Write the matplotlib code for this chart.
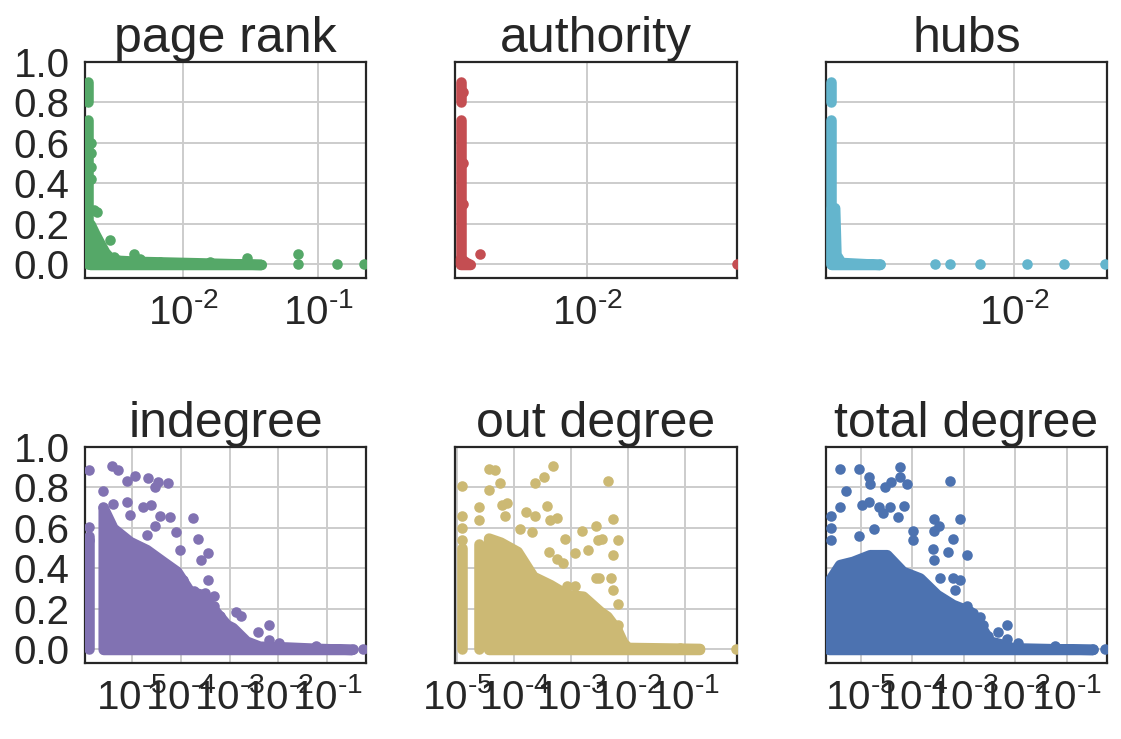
import numpy as np
import matplotlib
matplotlib.use('Agg')
import matplotlib.pyplot as plt
from matplotlib.ticker import NullFormatter, LogLocator, FuncFormatter

#####################################################################################################
# data: every measure on a log x axis, y shared 0..1
# columns = discrete values drawn as a stack of dots, mass = upper edge of the solid cloud

# page rank
pr_col_x = [1.98e-3, 1.98e-3]
pr_col_lo = [0.0, 0.80]
pr_col_hi = [0.713, 0.90]
pr_mass_x = [2.05e-3, 2.23e-3, 2.4e-3, 2.64e-3, 2.9e-3, 3.4e-3, 4.8e-3, 1.34e-2, 3.8e-2]
pr_mass_top = [0.20, 0.15, 0.11, 0.06, 0.03, 0.02, 0.015, 0.008, 0.0]
pr_pts_x = [2.1e-3, 2.1e-3, 2.1e-3, 2.1e-3, 2.3e-3, 2.2e-3, 2.9e-3, 2.4e-3, 3.1e-3,
            4.3e-3, 4.8e-3, 6.8e-3, 1.58e-2, 2.96e-2, 7.14e-2, 7.14e-2, 0.138, 0.217]
pr_pts_y = [0.60, 0.55, 0.48, 0.42, 0.259, 0.27, 0.119, 0.086, 0.036,
            0.053, 0.028, 0.012, 0.012, 0.033, 0.05, 0.0, 0.0, 0.0]
pr_xlim = (1.88e-3, 0.227)

# authority
au_col_x = [2.15e-3, 2.15e-3]
au_col_lo = [0.0, 0.80]
au_col_hi = [0.713, 0.90]
au_mass_x = [2.15e-3, 2.3e-3, 2.42e-3]
au_mass_top = [0.03, 0.01, 0.0]
au_pts_x = [2.22e-3, 2.22e-3, 2.22e-3, 2.71e-3, 0.0608]
au_pts_y = [0.85, 0.5, 0.3, 0.053, 0.0]
au_xlim = (2.02e-3, 0.0608)

# hubs
hu_col_x = [1.35e-3, 1.35e-3]
hu_col_lo = [0.0, 0.80]
hu_col_hi = [0.713, 0.90]
hu_mass_x = [1.35e-3, 1.40e-3, 1.42e-3, 1.5e-3, 2.3e-3]
hu_mass_top = [0.28, 0.28, 0.05, 0.01, 0.0]
hu_pts_x = [2.08e-3, 2.3e-3, 4.2e-3, 4.95e-3, 6.9e-3, 1.15e-2, 1.72e-2, 2.71e-2]
hu_pts_y = [0.0, 0.0, 0.0, 0.0, 0.0, 0.0, 0.0, 0.0]
hu_xlim = (1.27e-3, 0.0277)

# indegree
in_col_x = [1.3e-6]
in_col_lo = [0.0]
in_col_hi = [0.56]
in_mass_x = [2.6e-6, 4.1e-6, 9.1e-6, 2.0e-5, 4.3e-5, 8.3e-5, 1.53e-4, 2.8e-4, 4.5e-4,
             8.7e-4, 1.15e-3, 2.2e-3, 4.1e-3, 1.46e-2, 6.9e-2, 0.32]
in_mass_top = [0.70, 0.60, 0.533, 0.493, 0.435, 0.386, 0.287, 0.271, 0.205,
               0.123, 0.108, 0.041, 0.016, 0.012, 0.005, 0.0]
in_pts_x = [1.3e-6, 3.9e-6, 5.2e-6, 7.8e-6, 1.15e-5, 2.15e-5, 3.45e-5, 5.5e-5, 2.95e-5,
            2.6e-6, 2.6e-6, 4.2e-6, 7.8e-6, 1.7e-5, 2.5e-5, 9.1e-6, 3.7e-5, 6.0e-5,
            1.8e-4, 2.95e-5, 8.2e-5, 2.25e-4, 2.0e-5, 9.5e-5, 3.6e-4, 2.65e-4, 3.6e-4,
            1.1e-4, 1.9e-4, 3.1e-4, 4.9e-4, 4.9e-4, 3.35e-4, 6.25e-4, 1.3e-6, 1.3e-6,
            1.37e-3, 1.73e-3, 3.8e-3, 6.5e-3, 6.5e-3, 1.05e-2, 5.9e-2, 0.33, 0.525]
in_pts_y = [0.887, 0.906, 0.887, 0.834, 0.857, 0.849, 0.829, 0.821, 0.804,
            0.785, 0.706, 0.719, 0.726, 0.706, 0.714, 0.665, 0.66, 0.654,
            0.647, 0.611, 0.578, 0.545, 0.567, 0.493, 0.476, 0.44, 0.341,
            0.341, 0.287, 0.279, 0.266, 0.213, 0.164, 0.164, 0.607, 0.542,
            0.184, 0.164, 0.085, 0.123, 0.049, 0.033, 0.016, 0.003, 0.0]
in_xlim = (1.1e-6, 0.625)

# out degree
od_col_x = [1.18e-5, 2.36e-5]
od_col_lo = [0.0, 0.0]
od_col_hi = [0.50, 0.52]
od_mass_x = [3.54e-5, 5.7e-5, 1.13e-4, 2.15e-4, 4.3e-4, 8.5e-4, 1.62e-3, 3.2e-3, 4.3e-3,
             6.4e-3, 8.2e-3, 1.0e-2, 0.183]
od_mass_top = [0.55, 0.53, 0.484, 0.361, 0.32, 0.271, 0.263, 0.189, 0.164,
               0.099, 0.034, 0.01, 0.005]
od_pts_x = [1.18e-5, 1.18e-5, 1.18e-5, 1.18e-5, 2.36e-5, 2.36e-5, 3.54e-5, 4.65e-5, 3.54e-5,
            5.7e-5, 6.1e-5, 7.4e-5, 7.0e-5, 1.27e-4, 2.05e-4, 1.62e-4, 2.33e-4, 2.33e-4,
            3.4e-4, 4.9e-4, 3.7e-4, 4.3e-4, 5.6e-4, 7.9e-4, 4.1e-4, 5.6e-4, 7.3e-4,
            1.17e-3, 1.54e-3, 2.0e-3, 2.7e-3, 3.0e-3, 2.8e-3, 1.17e-3, 8.4e-4,
            4.5e-3, 5.5e-3, 3.45e-3, 6.6e-3, 5.5e-3, 3.1e-3, 5.0e-3, 5.4e-3, 6.8e-3,
            2.75e-3, 6.8e-3, 0.036, 0.055, 0.082, 0.156, 0.80]
od_pts_y = [0.805, 0.657, 0.60, 0.542, 0.706, 0.64, 0.89, 0.887, 0.788,
            0.821, 0.714, 0.722, 0.66, 0.594, 0.578, 0.677, 0.657, 0.821,
            0.851, 0.906, 0.711, 0.64, 0.649, 0.545, 0.48, 0.447, 0.427,
            0.476, 0.583, 0.493, 0.611, 0.542, 0.353, 0.315, 0.312,
            0.833, 0.645, 0.545, 0.539, 0.468, 0.353, 0.353, 0.296, 0.225,
            0.194, 0.123, 0.0, 0.0, 0.005, 0.0, 0.0]
od_xlim = (9.2e-6, 0.82)

# total degree
td_col_x = []
td_col_lo = []
td_col_hi = []
td_mass_x = [2.4e-6, 3.9e-6, 7.0e-6, 1.5e-5, 3.2e-5, 6.5e-5, 1.4e-4, 3.0e-4, 6.1e-4,
             1.31e-3, 2.05e-3, 3.2e-3, 5.7e-3, 8.9e-3, 7.3e-2, 0.32]
td_mass_top = [0.337, 0.419, 0.435, 0.468, 0.468, 0.386, 0.353, 0.271, 0.222,
               0.189, 0.123, 0.041, 0.025, 0.008, 0.003, 0.0]
td_pts_x = [3.9e-6, 9.1e-6, 1.43e-5, 1.54e-5, 5.3e-6, 2.9e-5, 3.9e-5, 5.9e-5, 5.9e-5,
            7.9e-5, 5.3e-4, 3.9e-6, 1.08e-5, 1.43e-5, 2.3e-5, 3.65e-5, 6.8e-5, 2.7e-5,
            5.3e-5, 2.6e-6, 2.6e-6, 2.6e-6, 9.1e-6, 1.8e-5, 1.04e-4, 1.04e-4, 2.7e-4,
            3.3e-4, 2.7e-4, 8.4e-4, 6.2e-4, 5.0e-4, 1.13e-3, 2.56e-4, 2.7e-4, 2.2e-5,
            3.4e-4, 6.2e-4, 6.7e-4, 8.4e-4, 1.13e-3, 1.52e-3, 2.05e-3, 2.4e-3, 3.0e-3,
            4.6e-3, 6.8e-3, 6.8e-3, 1.14e-2, 5.8e-2, 0.32, 0.54]
td_pts_y = [0.89, 0.89, 0.854, 0.818, 0.785, 0.804, 0.829, 0.903, 0.854,
            0.818, 0.834, 0.706, 0.714, 0.726, 0.706, 0.706, 0.709, 0.673,
            0.652, 0.657, 0.60, 0.542, 0.558, 0.594, 0.583, 0.542, 0.645,
            0.611, 0.583, 0.645, 0.545, 0.48, 0.468, 0.496, 0.443, 0.46,
            0.353, 0.353, 0.296, 0.345, 0.213, 0.181, 0.161, 0.122, 0.066,
            0.085, 0.123, 0.053, 0.033, 0.016, 0.003, 0.0]
td_xlim = (2.1e-6, 0.6)

titles = ['page rank', 'authority', 'hubs', 'indegree', 'out degree', 'total degree']
colors = ['#55A868', '#C44E52', '#64B5CD', '#8172B2', '#CCB974', '#4C72B0']

DOT = 7.6   # marker diameter in points

#####################################################################################################
def decade_label(v, pos):
    # short hyphen in the exponent, like the original render
    e = int(round(np.log10(v)))
    if e < 0:
      return '$10^{\u2010%d}$' % (-e)
    return '$10^{%d}$' % e

#####################################################################################################
def draw_panel(ax, title, color, col, mass, pts, xlim):
    col_x, col_lo, col_hi = col
    mass_x, mass_top = mass
    pts_x, pts_y = pts

    if len(col_x):
      ax.vlines(col_x, col_lo, col_hi, colors=color, linewidth=DOT, capstyle='round', zorder=3)
    ax.fill_between(mass_x, 0, mass_top, facecolor=color, edgecolor=color,
                    linewidth=DOT, joinstyle='round', zorder=3)
    ax.scatter(pts_x, pts_y, s=DOT**2, color=color, linewidths=0, zorder=3)

    ax.set_xscale('log')
    ax.set_xlim(xlim)
    ax.xaxis.set_major_locator(LogLocator(base=10, numticks=15))
    ax.xaxis.set_major_formatter(FuncFormatter(decade_label))
    ax.xaxis.set_minor_formatter(NullFormatter())
    ax.set_title(title)


#####################################################################################################
def draw_chart():
    plt.rcParams['font.family'] = ['Liberation Sans', 'DejaVu Sans']
    plt.rcParams['mathtext.fontset'] = 'custom'
    plt.rcParams['mathtext.rm'] = 'Liberation Sans'
    plt.rcParams['mathtext.it'] = 'Liberation Sans:italic'
    plt.rcParams['mathtext.bf'] = 'Liberation Sans:bold'
    plt.rcParams['mathtext.default'] = 'regular'
    plt.rcParams['axes.edgecolor'] = '#262626'
    plt.rcParams['axes.linewidth'] = 1.6
    plt.rcParams['axes.grid'] = True
    plt.rcParams['axes.axisbelow'] = True
    plt.rcParams['axes.titlesize'] = 36
    plt.rcParams['axes.titlepad'] = 4
    plt.rcParams['grid.color'] = '#cccccc'
    plt.rcParams['grid.linewidth'] = 1.4
    plt.rcParams['text.color'] = '#262626'
    for a in ['xtick', 'ytick']:
      plt.rcParams[a + '.major.size'] = 0
      plt.rcParams[a + '.minor.size'] = 0
      plt.rcParams[a + '.color'] = '#262626'
      plt.rcParams[a + '.labelsize'] = 29
    plt.rcParams['xtick.major.pad'] = 11
    plt.rcParams['ytick.major.pad'] = 11

    fig, axes = plt.subplots(2, 3, figsize=(11.21, 7.39), dpi=100, sharey=True)
    fig.subplots_adjust(left=0.0758, right=0.9875, bottom=0.1028, top=0.9161,
                        wspace=0.317, hspace=0.782)

    panels = [
      ((pr_col_x, pr_col_lo, pr_col_hi), (pr_mass_x, pr_mass_top), (pr_pts_x, pr_pts_y), pr_xlim),
      ((au_col_x, au_col_lo, au_col_hi), (au_mass_x, au_mass_top), (au_pts_x, au_pts_y), au_xlim),
      ((hu_col_x, hu_col_lo, hu_col_hi), (hu_mass_x, hu_mass_top), (hu_pts_x, hu_pts_y), hu_xlim),
      ((in_col_x, in_col_lo, in_col_hi), (in_mass_x, in_mass_top), (in_pts_x, in_pts_y), in_xlim),
      ((od_col_x, od_col_lo, od_col_hi), (od_mass_x, od_mass_top), (od_pts_x, od_pts_y), od_xlim),
      ((td_col_x, td_col_lo, td_col_hi), (td_mass_x, td_mass_top), (td_pts_x, td_pts_y), td_xlim),
    ]
    for ax, title, color, p in zip(axes.flat, titles, colors, panels):
      draw_panel(ax, title, color, *p)

    axes[0, 0].set_ylim(-0.067, 1.0)
    axes[0, 0].set_yticks([0.0, 0.2, 0.4, 0.6, 0.8, 1.0])

    fig.savefig('out.png', dpi=100)


#####################################################################################################
def main():
  draw_chart()

if __name__ == '__main__':
  main()
